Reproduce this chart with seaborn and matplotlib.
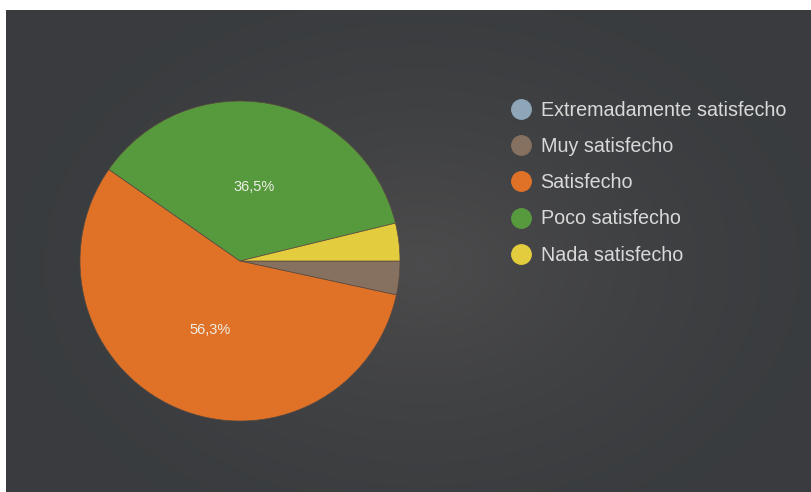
import matplotlib.pyplot as plt
from matplotlib.lines import Line2D
import numpy as np
import seaborn as sns

labels = ["Extremadamente satisfecho", "Muy satisfecho", "Satisfecho",
          "Poco satisfecho", "Nada satisfecho"]
values = [0.0, 3.4, 56.3, 36.5, 3.8]
colors = ["#8ea6b8", "#86705f", "#e07228", "#579a3e", "#e3cd3e"]


def pct_label(p):
    if p < 10:
        return ""
    return f"{p:.1f}%".replace(".", ",")


def main() -> None:
    sns.set_theme(style="dark")
    plt.rcParams["font.family"] = ["Liberation Sans", "DejaVu Sans"]

    fig = plt.figure(figsize=(8.12, 4.92), dpi=100, facecolor="white")

    # dark panel with a soft radial glow
    bg = fig.add_axes([6 / 812, 0, 1 - 6 / 812, 1 - 10 / 492])
    yy, xx = np.mgrid[0:482, 0:806]
    d = np.hypot((xx - 415) / 420, (yy - 255) / 300)
    shade = np.clip(1 - d, 0, 1) ** 1.5
    base = np.array([0.225, 0.235, 0.245])
    glow = np.array([0.30, 0.295, 0.30])
    img = base + (glow - base) * shade[..., None]
    bg.imshow(img, aspect="auto", interpolation="bilinear")
    bg.set_axis_off()

    ax = fig.add_axes([80 / 812, 71 / 492, 320 / 812, 320 / 492])
    ax.set_facecolor("none")
    wedges, texts, autotexts = ax.pie(
        values, colors=colors, startangle=0, counterclock=False,
        autopct=pct_label, pctdistance=0.47,
        wedgeprops=dict(edgecolor="#5a4a40", linewidth=0.5),
        textprops=dict(color="#ecefe6", fontsize=10.5),
    )
    ax.set_xlim(-1, 1)
    ax.set_ylim(-1, 1)
    ax.set_axis_off()

    handles = [Line2D([0], [0], marker="o", linestyle="none", markersize=14,
                      markerfacecolor=c, markeredgecolor=c) for c in colors]
    leg = fig.legend(handles, labels, loc="upper left",
                     bbox_to_anchor=(512 / 812, 1 - 101 / 492),
                     frameon=False, fontsize=14.2, handlelength=0.95,
                     handletextpad=0.5, labelspacing=0.87,
                     borderpad=0, borderaxespad=0)
    for t in leg.get_texts():
        t.set_color("#d9d9d9")

    fig.savefig("out.png", dpi=100, facecolor="white")


if __name__ == "__main__":
    main()
